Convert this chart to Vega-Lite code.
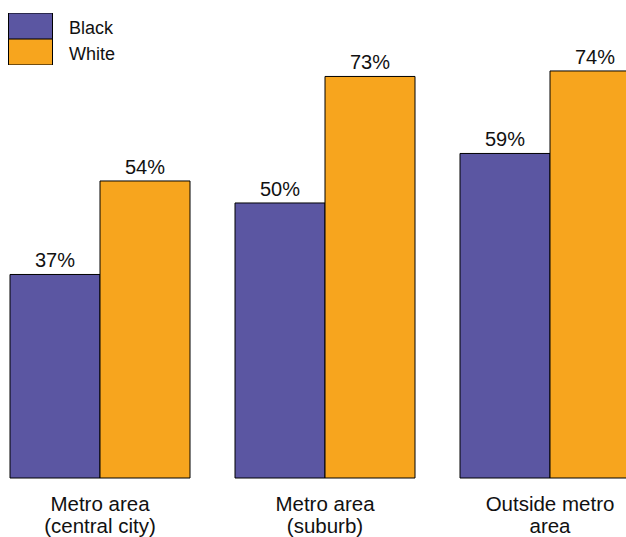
{
  "$schema": "https://vega.github.io/schema/vega-lite/v6.json",
  "width": 626,
  "height": 478,
  "autosize": {"type": "none"},
  "padding": {"left": 0, "top": 0, "right": 0, "bottom": 59},
  "background": "white",
  "config": {"view": {"stroke": null}, "font": "Liberation Sans"},
  "data": {
    "values": [
      {"area": "Metro area (central city)", "race": "Black", "value": 37, "label": "37%"},
      {"area": "Metro area (central city)", "race": "White", "value": 54, "label": "54%"},
      {"area": "Metro area (suburb)", "race": "Black", "value": 50, "label": "50%"},
      {"area": "Metro area (suburb)", "race": "White", "value": 73, "label": "73%"},
      {"area": "Outside metro area", "race": "Black", "value": 59, "label": "59%"},
      {"area": "Outside metro area", "race": "White", "value": 74, "label": "74%"}
    ]
  },
  "encoding": {
    "x": {
      "field": "area",
      "type": "nominal",
      "sort": ["Metro area (central city)", "Metro area (suburb)", "Outside metro area"],
      "scale": {"range": [10, 640], "paddingInner": 0.2, "paddingOuter": 0},
      "axis": {
        "title": null,
        "domain": false,
        "ticks": false,
        "labelAngle": 0,
        "labelFontSize": 20.5,
        "labelFont": "Liberation Sans",
        "labelColor": "#111111",
        "labelPadding": 16.5,
        "labelLineHeight": 21.5,
        "labelLimit": 300,
        "labelExpr": "datum.value == 'Outside metro area' ? ['Outside metro', 'area'] : [slice(datum.value, 0, 10), slice(datum.value, 11)]"
      }
    },
    "xOffset": {
      "field": "race",
      "type": "nominal",
      "sort": ["Black", "White"],
      "scale": {"paddingInner": 0, "paddingOuter": 0}
    },
    "y": {
      "field": "value",
      "type": "quantitative",
      "scale": {"domain": [0, 86.9], "nice": false, "zero": true},
      "axis": null
    }
  },
  "layer": [
    {
      "mark": {"type": "bar", "stroke": "black", "strokeWidth": 1},
      "encoding": {
        "color": {
          "field": "race",
          "type": "nominal",
          "scale": {"domain": ["Black", "White"], "range": ["#5B56A2", "#F7A51E"]},
          "legend": {
            "title": null,
            "orient": "none",
            "legendX": 8,
            "legendY": 13,
            "padding": 0,
            "symbolType": "M-1,-0.59H1V0.59H-1Z",
            "symbolSize": 1936,
            "clipHeight": 26,
            "symbolStrokeColor": "black",
            "symbolStrokeWidth": 1,
            "symbolOpacity": 1,
            "rowPadding": 0,
            "labelFontSize": 18,
            "labelFont": "Liberation Sans",
            "labelColor": "#111111",
            "labelOffset": 16,
            "encode": {"labels": {"update": {"dy": {"value": 3}}}}
          }
        }
      }
    },
    {
      "mark": {"type": "text", "dy": -7, "baseline": "alphabetic", "fontSize": 20, "font": "Liberation Sans", "color": "#111111"},
      "encoding": {"text": {"field": "label"}}
    }
  ]
}
